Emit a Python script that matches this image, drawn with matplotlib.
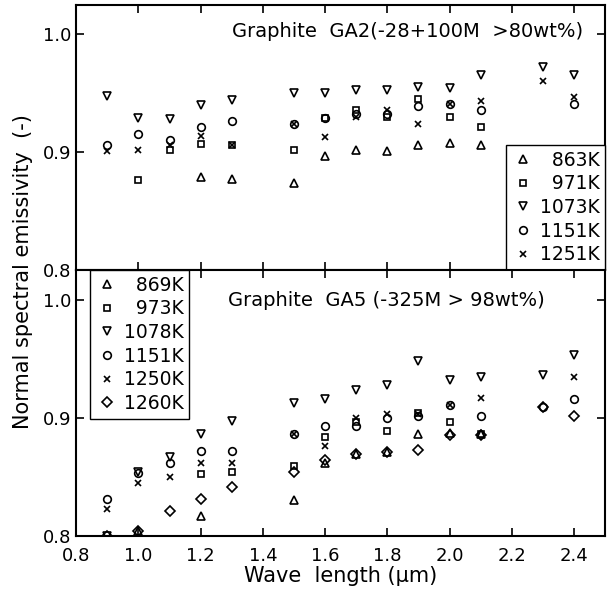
import numpy as np
import matplotlib
matplotlib.use("Agg")
import matplotlib.pyplot as plt

plt.rcParams['font.family'] = ['DejaVu Sans']

# ---- upper panel: Graphite GA2 ----
ga2_labels = ["\u2007863K", "\u2007971K", "1073K", "1151K", "1251K"]
ga2_x = [
    [1.2, 1.3, 1.5, 1.6, 1.7, 1.8, 1.9, 2.0, 2.1],
    [1.0, 1.1, 1.2, 1.3, 1.5, 1.6, 1.7, 1.8, 1.9, 2.0, 2.1],
    [0.9, 1.0, 1.1, 1.2, 1.3, 1.5, 1.6, 1.7, 1.8, 1.9, 2.0, 2.1, 2.3, 2.4],
    [0.9, 1.0, 1.1, 1.2, 1.3, 1.5, 1.6, 1.7, 1.8, 1.9, 2.0, 2.1, 2.4],
    [0.9, 1.0, 1.1, 1.2, 1.3, 1.5, 1.6, 1.7, 1.8, 1.9, 2.0, 2.1, 2.3, 2.4],
]
ga2_y = [
    [0.879, 0.877, 0.874, 0.897, 0.902, 0.901, 0.906, 0.908, 0.906],
    [0.876, 0.902, 0.907, 0.906, 0.902, 0.929, 0.936, 0.930, 0.945, 0.930, 0.921],
    [0.948, 0.929, 0.928, 0.940, 0.944, 0.950, 0.950, 0.953, 0.953, 0.955, 0.954, 0.965, 0.972, 0.965],
    [0.906, 0.915, 0.910, 0.921, 0.926, 0.924, 0.929, 0.932, 0.932, 0.939, 0.941, 0.936, 0.941],
    [0.901, 0.902, 0.906, 0.914, 0.906, 0.924, 0.913, 0.930, 0.936, 0.924, 0.941, 0.943, 0.960, 0.947],
]

# ---- lower panel: Graphite GA5 ----
ga5_labels = ["\u2007869K", "\u2007973K", "1078K", "1151K", "1250K", "1260K"]
ga5_x = [
    [1.0, 1.2, 1.5, 1.6, 1.7, 1.8, 1.9, 2.0, 2.1],
    [1.2, 1.3, 1.5, 1.6, 1.7, 1.8, 1.9, 2.0, 2.1],
    [0.9, 1.0, 1.1, 1.2, 1.3, 1.5, 1.6, 1.7, 1.8, 1.9, 2.0, 2.1, 2.3, 2.4],
    [0.9, 1.0, 1.1, 1.2, 1.3, 1.5, 1.6, 1.7, 1.8, 1.9, 2.0, 2.1, 2.3, 2.4],
    [0.9, 1.0, 1.1, 1.2, 1.3, 1.5, 1.6, 1.7, 1.8, 1.9, 2.0, 2.1, 2.4],
    [0.9, 1.0, 1.1, 1.2, 1.3, 1.5, 1.6, 1.7, 1.8, 1.9, 2.0, 2.1, 2.3, 2.4],
]
ga5_y = [
    [0.804, 0.817, 0.830, 0.862, 0.869, 0.871, 0.886, 0.887, 0.886],
    [0.852, 0.854, 0.859, 0.884, 0.896, 0.889, 0.904, 0.896, 0.886],
    [0.800, 0.854, 0.867, 0.886, 0.897, 0.912, 0.916, 0.923, 0.928, 0.948, 0.932, 0.934, 0.936, 0.953],
    [0.831, 0.853, 0.862, 0.872, 0.872, 0.886, 0.893, 0.893, 0.900, 0.901, 0.911, 0.901, 0.909, 0.916],
    [0.823, 0.845, 0.850, 0.862, 0.862, 0.886, 0.876, 0.900, 0.903, 0.903, 0.911, 0.917, 0.934],
    [0.800, 0.804, 0.821, 0.831, 0.841, 0.854, 0.864, 0.869, 0.871, 0.873, 0.885, 0.885, 0.909, 0.901],
]

markers = ['^', 's', 'v', 'o', 'x', 'D']
msizes = [6, 5, 6, 5.5, 5, 5]

xticks = [0.8, 1.0, 1.2, 1.4, 1.6, 1.8, 2.0, 2.2, 2.4]
yticks = [0.8, 0.9, 1.0]

fig = plt.figure(figsize=(6.15, 5.96), dpi=100)
ax1 = fig.add_axes([0.124, 0.547, 0.860, 0.445])
ax2 = fig.add_axes([0.124, 0.101, 0.860, 0.446])


def style(ax):
    ax.set_xlim(0.8, 2.5)
    ax.set_ylim(0.8, 1.025)
    ax.set_xticks(xticks)
    ax.set_yticks(yticks)
    ax.tick_params(direction='in', length=6, width=1.2, top=True, right=True,
                   labelsize=13)
    ax.tick_params(axis='x', pad=8)
    for s in ax.spines.values():
        s.set_linewidth(1.5)


for i in range(len(ga2_labels)):
    ax1.plot(ga2_x[i], ga2_y[i], ls='none', marker=markers[i], ms=msizes[i],
             mfc='none', mec='black', mew=1.2, label=ga2_labels[i])
for i in range(len(ga5_labels)):
    ax2.plot(ga5_x[i], ga5_y[i], ls='none', marker=markers[i], ms=msizes[i],
             mfc='none', mec='black', mew=1.2, label=ga5_labels[i])

style(ax1)
style(ax2)
ax1.tick_params(labelbottom=False)

ax1.text(0.295, 0.898, "Graphite  GA2(-28+100M  >80wt%)", transform=ax1.transAxes,
         ha='left', va='center', fontsize=14)
ax2.text(0.287, 0.887, "Graphite  GA5 (-325M > 98wt%)", transform=ax2.transAxes,
         ha='left', va='center', fontsize=14)

leg1 = ax1.legend(loc='lower right', borderaxespad=0, fontsize=13.5, fancybox=False,
                  framealpha=1, edgecolor='black', handletextpad=0.3,
                  handlelength=1.2, labelspacing=0.25, borderpad=0.3)
leg1.get_frame().set_linewidth(1.0)
leg2 = ax2.legend(loc='upper left', bbox_to_anchor=(0.026, 1.0), borderaxespad=0,
                  fontsize=13.5, fancybox=False, framealpha=1, edgecolor='black',
                  handletextpad=0.3, handlelength=1.2, labelspacing=0.25,
                  borderpad=0.3)
leg2.get_frame().set_linewidth(1.0)

ax2.set_xlabel("Wave  length (\u03bcm)", fontsize=15, labelpad=1)
fig.text(0.037, 0.545, "Normal spectral emissivity  (-)", rotation=90,
         ha='center', va='center', fontsize=15)

fig.savefig("out.png", dpi=100)
